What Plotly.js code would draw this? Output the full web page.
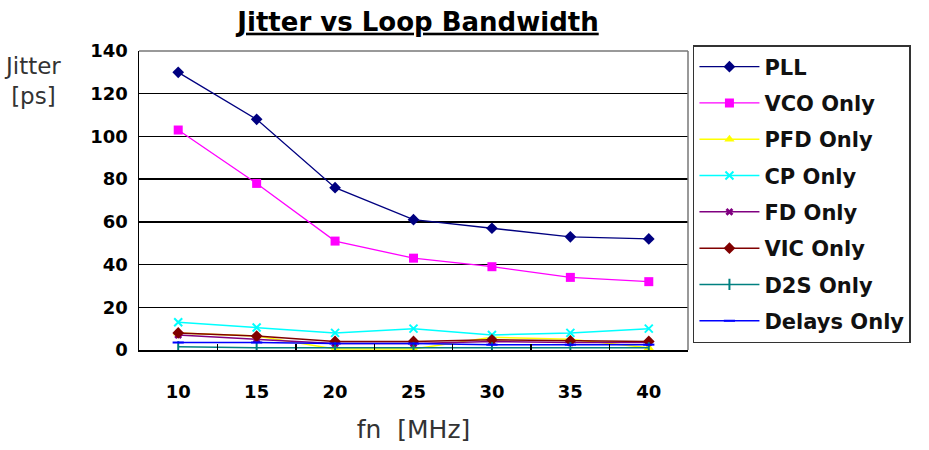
<!DOCTYPE html>
<html><head><meta charset="utf-8">
<script src="https://cdn.plot.ly/plotly-3.0.1.min.js"></script>
<style>body{margin:0;background:#fff}#chart{width:929px;height:450px}</style>
</head><body><div id="chart"></div>
<script>
const categories = ['10','15','20','25','30','35','40'];
const seriesNames = ['PLL','VCO Only','PFD Only','CP Only','FD Only','VIC Only','D2S Only','Delays Only'];
const pll    = [130, 108, 76, 61, 57, 53, 52];
const vco    = [103, 78, 51, 43, 39, 34, 32];
const pfd    = [8, 6.5, 0.5, 0.5, 6, 5, 1];
const cp     = [13, 10.5, 8, 10, 7, 8, 10];
const fd     = [7, 5, 3, 3, 4, 3.5, 3.5];
const vic    = [8, 6.5, 4, 4, 4.8, 4.3, 4];
const d2s    = [1.5, 1, 1, 1, 1, 1, 1];
const delays = [3.5, 3.5, 3, 3, 2.5, 2.5, 2.5];
const yTicks = [0,20,40,60,80,100,120,140];

const values = [pll, vco, pfd, cp, fd, vic, d2s, delays];
const colors = ['#000080','#FF00FF','#FFFF00','#00FFFF','#800080','#800000','#008080','#0000FF'];
const symbols = ['diamond','square','triangle-up','x-thin','x','diamond','line-ns','line-ew'];
const msizes = [9,9,9,8,7,9,8,8];

const traces = values.map((v,i)=>({
  x: categories, y: v, name: seriesNames[i], type:'scatter', mode:'lines+markers',
  legendgroup: 'g'+i,
  line:{color: colors[i], width: i<2?1.3:1.5},
  marker:{color: colors[i], symbol: symbols[i], size: msizes[i], line:{color: colors[i], width: (symbols[i].indexOf('line')===0||symbols[i]==='x-thin')?2:0}}
}));

const BOLD = 'DejaVu Sans, sans-serif';
const layout = {
  width:929, height:450,
  margin:{l:139, r:241, t:51, b:100},
  paper_bgcolor:'#fff', plot_bgcolor:'#fff',
  showlegend:true,
  title:{text:'<u>Jitter vs Loop Bandwidth</u>', x:0.45, xanchor:'center', y:0.952, yanchor:'middle',
         font:{family:BOLD, size:26, color:'#000', weight:'bold'}},
  xaxis:{type:'category', range:[-0.5,6.5], tickson:'boundaries', ticks:'inside', ticklen:6, tickcolor:'#000', tickwidth:1.5,
         showline:true, linecolor:'#000', linewidth:2, mirror:false, showgrid:false, zeroline:false,
         tickfont:{family:BOLD, size:18, color:'#000', weight:'bold'},
         ticklabelstandoff:24,
         title:{text:'fn  [MHz]', standoff:20, font:{family:'DejaVu Sans, sans-serif', size:25, color:'#333'}}},
  yaxis:{range:[0,140], tickvals:yTicks, ticktext:yTicks.map(String), showgrid:true, gridcolor:'#000', gridwidth:1.5,
         showline:true, linecolor:'#000', linewidth:1.5, zeroline:false, ticks:'',
         ticklabelstandoff:6,
         tickfont:{family:BOLD, size:18, color:'#000', weight:'bold'}},
  legend:{x:1.009, xanchor:'left', y:1.02, yanchor:'top', bordercolor:'#333', borderwidth:1.5, bgcolor:'#fff',
          traceorder:'grouped', tracegroupgap:6, itemwidth:60, maxheight:420,
          font:{family:BOLD, size:21, color:'#111', weight:'bold'}},
  shapes:[
    {type:'line', xref:'paper', yref:'paper', x0:0, x1:1, y0:1, y1:1, line:{color:'#777', width:1.5}},
    {type:'line', xref:'paper', yref:'paper', x0:1, x1:1, y0:0, y1:1, line:{color:'#777', width:1.5}}
  ],
  annotations:[
    {text:'Jitter<br>[ps]', xref:'paper', yref:'paper', x:-0.25, y:1.0, xanchor:'left', yanchor:'top', showarrow:false, align:'center',
     font:{family:'DejaVu Sans, sans-serif', size:23, color:'#333'}}
  ]
};
Plotly.newPlot('chart', traces, layout, {displayModeBar:false, staticPlot:true});
</script></body></html>
